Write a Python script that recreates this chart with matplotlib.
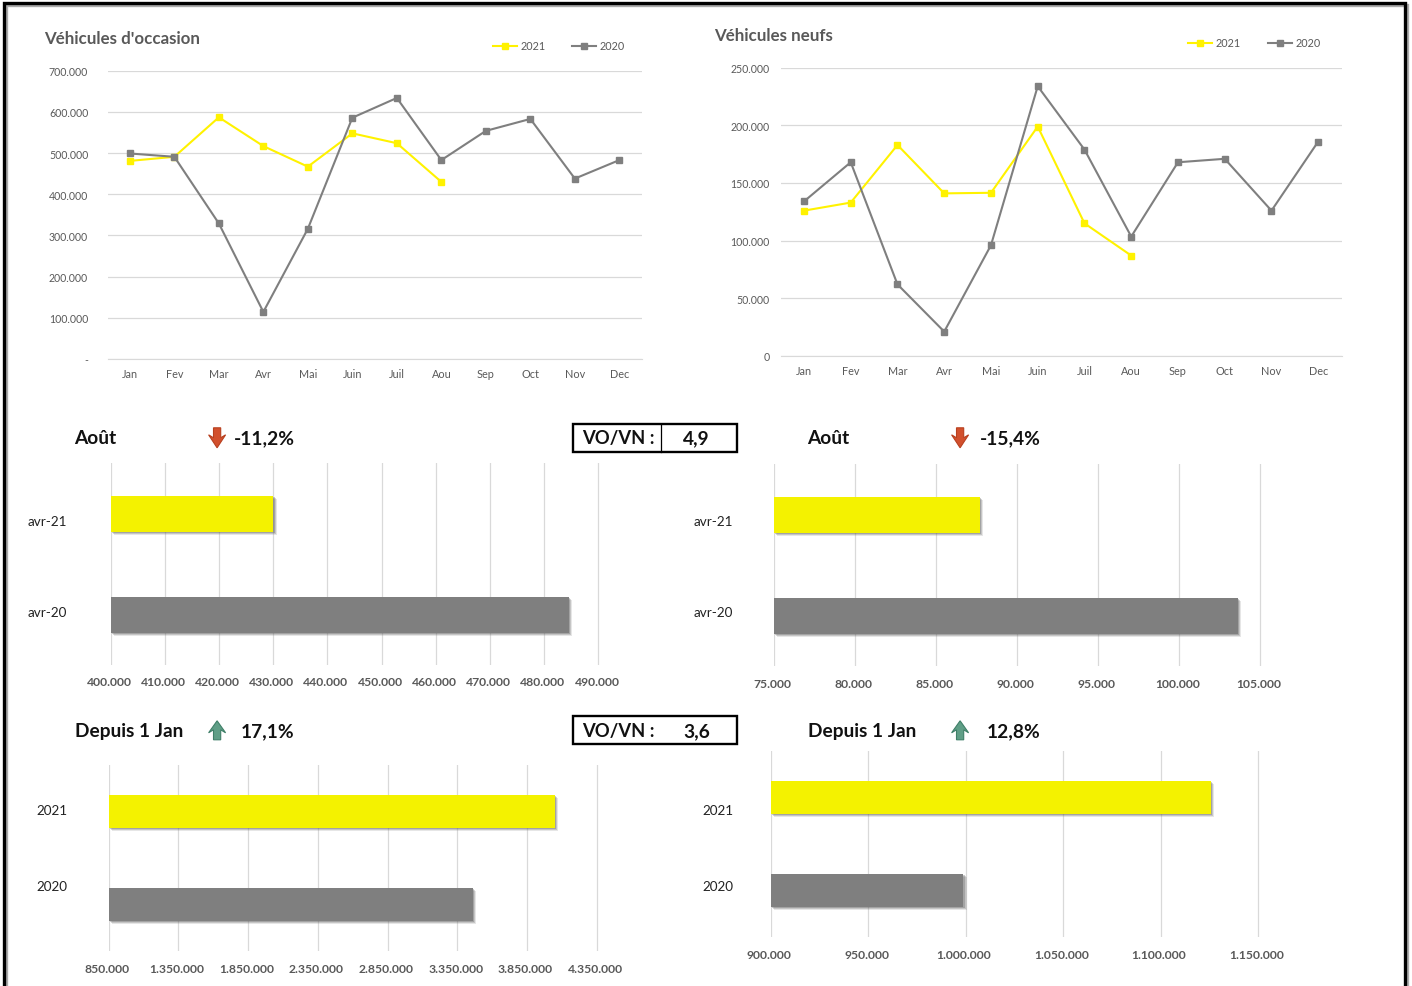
import matplotlib
matplotlib.use("Agg")
import matplotlib.pyplot as plt
import matplotlib.patheffects as pe
from matplotlib.patches import Rectangle, Polygon
from matplotlib.lines import Line2D
from matplotlib.transforms import ScaledTranslation

plt.rcParams['font.family'] = ['Lato', 'DejaVu Sans']

W, H = 1412, 987
months = ["Jan", "Fev", "Mar", "Avr", "Mai", "Juin", "Juil", "Aou", "Sep", "Oct", "Nov", "Dec"]

vo_2021 = [481000, 491000, 587000, 517000, 467000, 548000, 524000, 430000]
vo_2020 = [499000, 491000, 329000, 114000, 316000, 586000, 634000, 483000, 554000, 583000, 438000, 483000]
vo_ticks = [0, 100000, 200000, 300000, 400000, 500000, 600000, 700000]
vo_ticklabels = ["-", "100.000", "200.000", "300.000", "400.000", "500.000", "600.000", "700.000"]

vn_2021 = [126000, 133000, 183000, 141000, 141500, 199000, 115000, 87000]
vn_2020 = [134000, 168000, 62000, 21000, 96000, 234000, 179000, 103500, 168000, 171000, 126000, 186000]
vn_ticks = [0, 50000, 100000, 150000, 200000, 250000]
vn_ticklabels = ["0", "50.000", "100.000", "150.000", "200.000", "250.000"]

aug_labels = ["avr-20", "avr-21"]
ytd_labels = ["2020", "2021"]
vo_aug = [484500, 430000]
vn_aug = [103600, 87700]
vo_ytd = [3461000, 4049000]
vn_ytd = [998900, 1125900]
vo_aug_ticks = [400000, 410000, 420000, 430000, 440000, 450000, 460000, 470000, 480000, 490000]
vn_aug_ticks = [75000, 80000, 85000, 90000, 95000, 100000, 105000]
vo_ytd_ticks = [850000, 1350000, 1850000, 2350000, 2850000, 3350000, 3850000, 4350000]
vn_ytd_ticks = [900000, 950000, 1000000, 1050000, 1100000, 1150000]

YEL_LINE = "#FFF200"
YEL_BAR = "#F4F200"
GREY = "#7F7F7F"
GRID = "#D9D9D9"
TXT = "#595959"

fig = plt.figure(figsize=(W / 100, H / 100), dpi=100, facecolor="white")


def fx(x):
    return (x - 0.4) / W


def fy(y):
    return 1 - (y + 0.8) / H


def px_axes(l, t, r, b):
    return fig.add_axes([fx(l), fy(b), (r - l) / W, (b - t) / H])


def fmt(v):
    return f"{v:,}".replace(",", ".")


def line_chart(box, v21, v20, ticks, ticklabels, title, title_xy, leg_x, leg_y, ypad):
    ax = px_axes(*box)
    ax.set_facecolor("none")
    ax.plot(range(len(v21)), v21, color=YEL_LINE, lw=1.5, marker="s", ms=4.8, clip_on=False, zorder=3)
    ax.plot(range(len(v20)), v20, color=GREY, lw=1.5, marker="s", ms=4.8, clip_on=False, zorder=4)
    ax.set_xlim(-0.5, 11.5)
    ax.set_ylim(ticks[0], ticks[-1])
    ax.set_yticks(ticks, ticklabels)
    ax.set_xticks(range(12), months)
    ax.grid(axis="y", color=GRID, lw=0.9)
    ax.set_axisbelow(True)
    for s in ax.spines.values():
        s.set_visible(False)
    ax.spines["bottom"].set_visible(True)
    ax.spines["bottom"].set_color(GRID)
    ax.tick_params(length=0, labelcolor=TXT)
    ax.tick_params(axis="y", pad=ypad, labelsize=7.6)
    ax.tick_params(axis="x", pad=6.8, labelsize=7.8)
    fig.text(fx(title_xy[0]), fy(title_xy[1]), title, fontsize=12.2, fontweight="bold",
             color=TXT, va="center", ha="left")
    for i, (lab, col) in enumerate([("2021", YEL_LINE), ("2020", GREY)]):
        x0 = leg_x[i]
        fig.add_artist(Line2D([fx(x0), fx(x0 + 24)], [fy(leg_y)] * 2, color=col, lw=1.5))
        fig.add_artist(Line2D([fx(x0 + 12)], [fy(leg_y)], color=col, marker="s", ms=4.8))
        fig.text(fx(x0 + 28), fy(leg_y), lab, fontsize=7.8, color=TXT, va="center", ha="left")


def bar_chart(box, cats, vals, ticks, xlim, height, label_x, label_ys, tick_pad):
    ax = px_axes(*box)
    ax.set_facecolor("none")
    shadow = [pe.SimplePatchShadow(offset=(2.4, -2.4), shadow_rgbFace="#777777", alpha=0.18),
              pe.SimplePatchShadow(offset=(1.7, -1.7), shadow_rgbFace="#666666", alpha=0.25),
              pe.SimplePatchShadow(offset=(1.0, -1.0), shadow_rgbFace="#555555", alpha=0.3),
              pe.Normal()]
    bars = ax.barh([0, 1], vals, left=xlim[0], height=height, color=[GREY, YEL_BAR], zorder=3)
    for b in bars:
        b.set_path_effects(shadow)
    ax.set_xlim(*xlim)
    ax.set_ylim(-0.5, 1.5)
    ax.set_xticks(ticks, [fmt(t) for t in ticks])
    ax.set_yticks([])
    ax.grid(axis="x", color=GRID, lw=0.9)
    ax.set_axisbelow(True)
    for s in ax.spines.values():
        s.set_visible(False)
    ax.tick_params(length=0, labelsize=8.7, labelcolor=TXT, pad=tick_pad)
    shift = ScaledTranslation(-1.5 / 100, 0, fig.dpi_scale_trans)
    for lab in ax.get_xticklabels():
        lab.set_fontweight("bold")
        lab.set_transform(lab.get_transform() + shift)
    for c, y in zip(cats, label_ys):
        fig.text(fx(label_x), fy(y), c, fontsize=9.7, color="#222222", va="center", ha="right")
    return ax


def head(x, y, text, fs=13.8):
    fig.text(fx(x), fy(y), text, fontsize=fs, fontweight="bold", color="#111111", va="center", ha="left")


def arrow(cx, top, bottom, up, face, edge):
    hw, sw = 8.5, 3.6
    if up:
        neck = top + 12
        pts = [(cx, top), (cx + hw, neck), (cx + sw, neck - 3), (cx + sw, bottom), (cx - sw, bottom),
               (cx - sw, neck - 3), (cx - hw, neck)]
    else:
        neck = bottom - 13
        pts = [(cx, bottom), (cx + hw, neck), (cx + sw, neck + 3), (cx + sw, top), (cx - sw, top),
               (cx - sw, neck + 3), (cx - hw, neck)]
    fig.add_artist(Polygon([(fx(a), fy(b)) for a, b in pts], closed=True, facecolor=face, edgecolor=edge,
                           lw=0.8, transform=fig.transFigure))


def vovn_box(l, t, r, b, value, yc, divider=False):
    fig.add_artist(Rectangle((fx(l), fy(b)), (r - l) / W, (b - t) / H, fill=False, edgecolor="black", lw=1.7,
                             transform=fig.transFigure))
    if divider:
        fig.add_artist(Line2D([fx(661)] * 2, [fy(t), fy(b)], color="black", lw=0.9))
    fig.text(fx(583), fy(yc), "VO/VN :", fontsize=13.2, fontweight="bold", color="#111111", va="center", ha="left")
    fig.text(fx(697), fy(yc), value, fontsize=13.8, fontweight="bold", color="#111111", va="center", ha="center")


# outer frame
fig.add_artist(Rectangle((fx(4), fy(1000)), 1401 / W, 997 / H, fill=False, edgecolor="black", lw=2.4,
                         transform=fig.transFigure,
                         path_effects=[pe.SimpleLineShadow(offset=(1.5, -1.5), shadow_color="#888888", alpha=0.7),
                                       pe.Normal()]))

line_chart((108, 71, 642, 359), vo_2021, vo_2020, vo_ticks, vo_ticklabels, "Véhicules d'occasion",
           (44.5, 38), (493, 572), 46, 14)
line_chart((781, 68, 1342, 356), vn_2021, vn_2020, vn_ticks, vn_ticklabels, "Véhicules neufs",
           (714.5, 35), (1188, 1268), 43, 8)

bar_chart((111, 463.5, 653, 665.5), aug_labels, [v - 400000 for v in vo_aug], vo_aug_ticks, (400000, 500000), 0.36,
          67.5, (612, 521), 7.5)
bar_chart((774, 464.5, 1342, 666.5), aug_labels, [v - 75000 for v in vn_aug], vn_aug_ticks, (75000, 110000), 0.36,
          733.5, (612, 521), 8.5)
bar_chart((109, 765, 667, 951), ytd_labels, [v - 850000 for v in vo_ytd], vo_ytd_ticks, (850000, 4850000), 0.355,
          67.5, (886, 810), 8.8)
bar_chart((771, 751, 1356, 937), ytd_labels, [v - 900000 for v in vn_ytd], vn_ytd_ticks, (900000, 1200000), 0.355,
          733.5, (886, 810), 8.8)

head(75, 438, "Août")
head(234.5, 438, "-11,2%")
head(808, 438, "Août")
head(980, 438, "-15,4%")
head(75, 731, "Depuis 1 Jan")
head(241, 731, "17,1%")
head(808, 731, "Depuis 1 Jan")
head(987, 731, "12,8%")

RED, RED_E = "#D2502D", "#B8401F"
GRN, GRN_E = "#5F9E86", "#3F7F68"
arrow(217.5, 428, 448, False, RED, RED_E)
arrow(960.5, 428, 448, False, RED, RED_E)
arrow(217.5, 721, 740, True, GRN, GRN_E)
arrow(960.5, 721, 740, True, GRN, GRN_E)

vovn_box(573, 424, 737, 452, "4,9", 438, divider=True)
vovn_box(573, 716, 737, 744, "3,6", 731)

fig.savefig("out.png", dpi=100, facecolor="white")
